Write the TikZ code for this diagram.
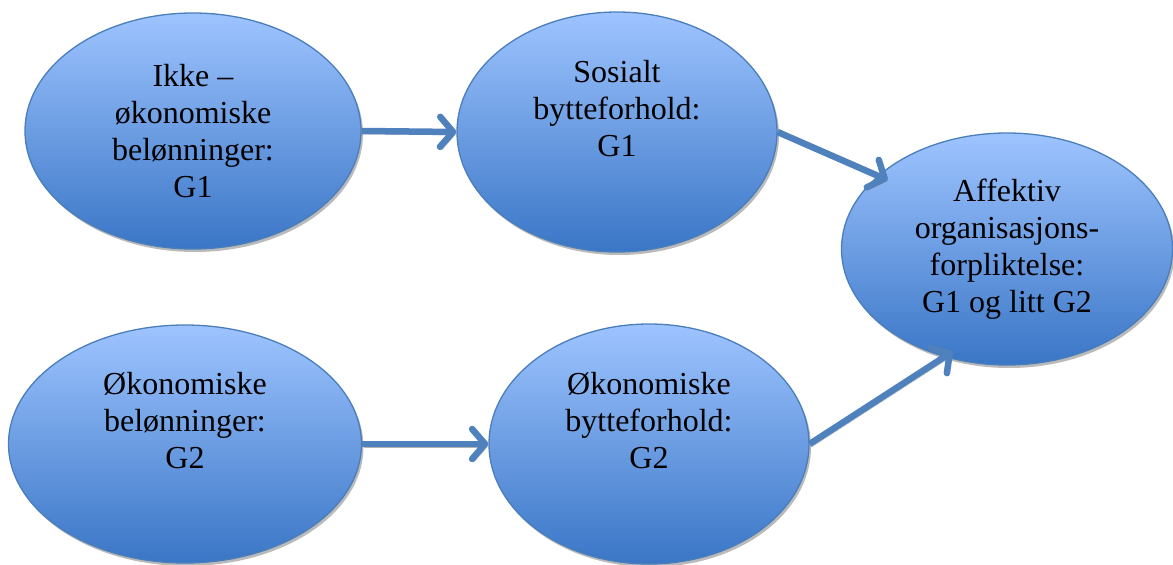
\documentclass[tikz,border=0pt]{standalone}
\usepackage{fontspec}
\setmainfont{Liberation Serif}
\newfontfamily\tnrfont{Liberation Serif}
\usetikzlibrary{arrows.meta,shadows,calc,shapes.geometric}
\definecolor{ellborder}{RGB}{74,126,187}
\definecolor{elltop}{RGB}{158,196,255}
\definecolor{ellbot}{RGB}{58,118,198}
\definecolor{arrcol}{RGB}{79,129,189}
\begin{document}
\begin{tikzpicture}[x=1pt,y=-1pt,
 bubble/.style={ellipse, draw=ellborder, line width=1.3pt, top color=elltop, bottom color=ellbot,
   inner sep=0pt, align=center, font=\tnrfont\fontsize{32}{37}\selectfont,
   drop shadow={shadow xshift=2pt, shadow yshift=-3pt, fill=black!45, opacity=0.6}},
 link/.style={draw=arrcol, line width=6.5pt, -{Straight Barb[length=13pt,width=30pt,round]},
   preaction={draw=black!30, transform canvas={shift={(2pt,-3pt)}}}}
]
\useasboundingbox (0,0) rectangle (1173,565);
\node[bubble, minimum width=336pt, minimum height=236pt] (ikke) at (193,131) {Ikke –\\økonomiske\\belønninger:\\G1};
\node[bubble, minimum width=320pt, minimum height=240pt] (sos) at (617,132) {Sosialt\\bytteforhold:\\G1\\\strut};
\node[bubble, minimum width=353pt, minimum height=238pt] (okb) at (185,444) {Økonomiske\\belønninger:\\G2\\\strut};
\node[bubble, minimum width=320pt, minimum height=240pt] (okf) at (649,444) {Økonomiske\\bytteforhold:\\G2\\\strut};
\node[bubble, minimum width=331pt, minimum height=232pt] (aff) at (1007,249) {Affektiv\\organisasjons-\\forpliktelse:\\G1 og litt G2};
\draw[link] (ikke.east) -- (sos.west);
\draw[link] (sos.east) -- ($(aff.center)!0.93!(aff.150)$);
\draw[link] (okb.east) -- (okf.west);
\draw[link] (okf.east) -- ($(aff.center)!0.94!(aff.242)$);
\end{tikzpicture}
\end{document}
